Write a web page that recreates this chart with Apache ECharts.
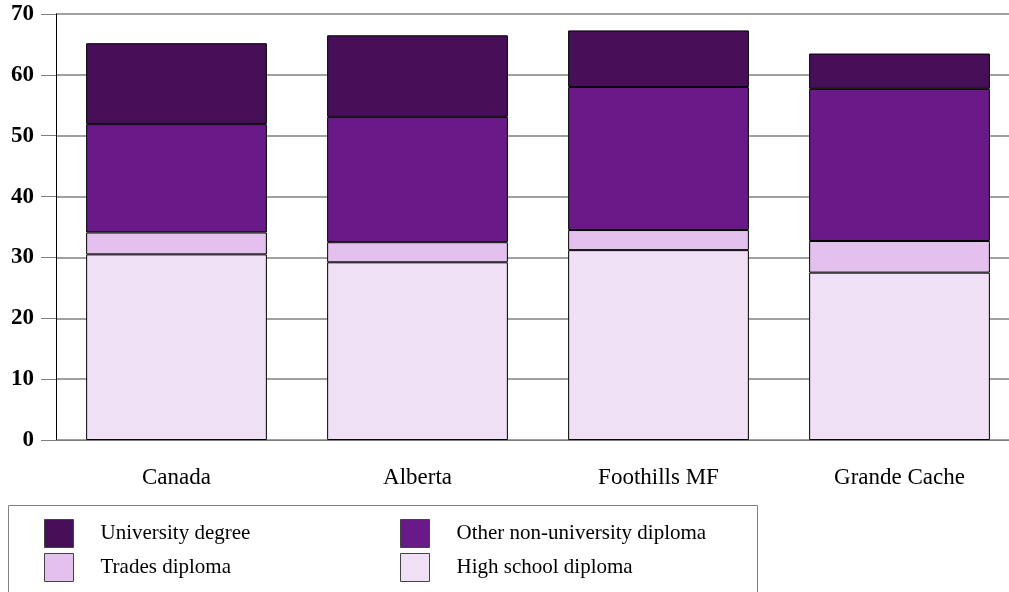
<!DOCTYPE html>
<html><head><meta charset="utf-8">
<script src="https://cdn.jsdelivr.net/npm/echarts@6/dist/echarts.min.js"></script>
<style>html,body{margin:0;padding:0;background:#fff;overflow:hidden}#c{width:1020px;height:592px}</style>
</head><body><div id="c"></div>
<script>
var categories = ['Canada', 'Alberta', 'Foothills MF', 'Grande Cache'];
var highSchool = [30.5, 29.2, 31.2, 27.5];
var trades = [3.6, 3.3, 3.3, 5.2];
var otherNonUni = [17.8, 20.6, 23.5, 25.0];
var university = [13.3, 13.4, 9.3, 5.8];
var yTicks = [0, 10, 20, 30, 40, 50, 60, 70];

var font = '"Liberation Serif","Times New Roman",serif';
function s(name, data, color) {
  return { name: name, type: 'bar', stack: 'a', data: data, barWidth: '75%',
    itemStyle: { color: color, borderColor: '#000', borderWidth: 1 } };
}
function lg(name, left, top) {
  return { show: true, orient: 'horizontal', left: left, top: top, padding: 0,
    icon: 'rect', itemWidth: 29, itemHeight: 28, data: [name],
    itemStyle: { borderColor: '#444', borderWidth: 1 },
    textStyle: { fontFamily: font, fontSize: 21, color: '#000', padding: [0, 0, 0, 22] } };
}
var chart = echarts.init(document.getElementById('c'), null, { renderer: 'canvas' });
chart.setOption({
  animation: false,
  grid: { left: 56, right: 0, top: 14, bottom: 152, containLabel: false },
  xAxis: { type: 'category', data: categories,
    axisLine: { lineStyle: { color: '#808080', width: 1 } },
    axisTick: { alignWithLabel: true, length: 15, lineStyle: { color: '#000' } },
    axisLabel: { color: '#000', fontFamily: font, fontSize: 23, margin: 26 } },
  yAxis: { type: 'value', min: yTicks[0], max: yTicks[yTicks.length - 1], interval: 10,
    axisLine: { show: true, lineStyle: { color: '#000' } },
    axisTick: { show: true, length: 15, lineStyle: { color: '#808080' } },
    splitLine: { lineStyle: { color: '#808080', width: 1.5 } },
    axisLabel: { color: '#000', fontFamily: font, fontSize: 23, fontWeight: 'bold', margin: 22 } },
  legend: [
    lg('University degree', 44, 519),
    lg('Trades diploma', 44, 553),
    lg('Other non-university diploma', 400, 519),
    lg('High school diploma', 400, 553)
  ],
  graphic: [{ type: 'rect', shape: { x: 8.5, y: 505.5, width: 749, height: 100 },
    style: { fill: 'none', stroke: '#808080', lineWidth: 1 }, z: -1 }],
  series: [
    s('High school diploma', highSchool, '#f0e0f6'),
    s('Trades diploma', trades, '#e3c0ee'),
    s('Other non-university diploma', otherNonUni, '#6a1a88'),
    s('University degree', university, '#470f58')
  ]
});
</script></body></html>
